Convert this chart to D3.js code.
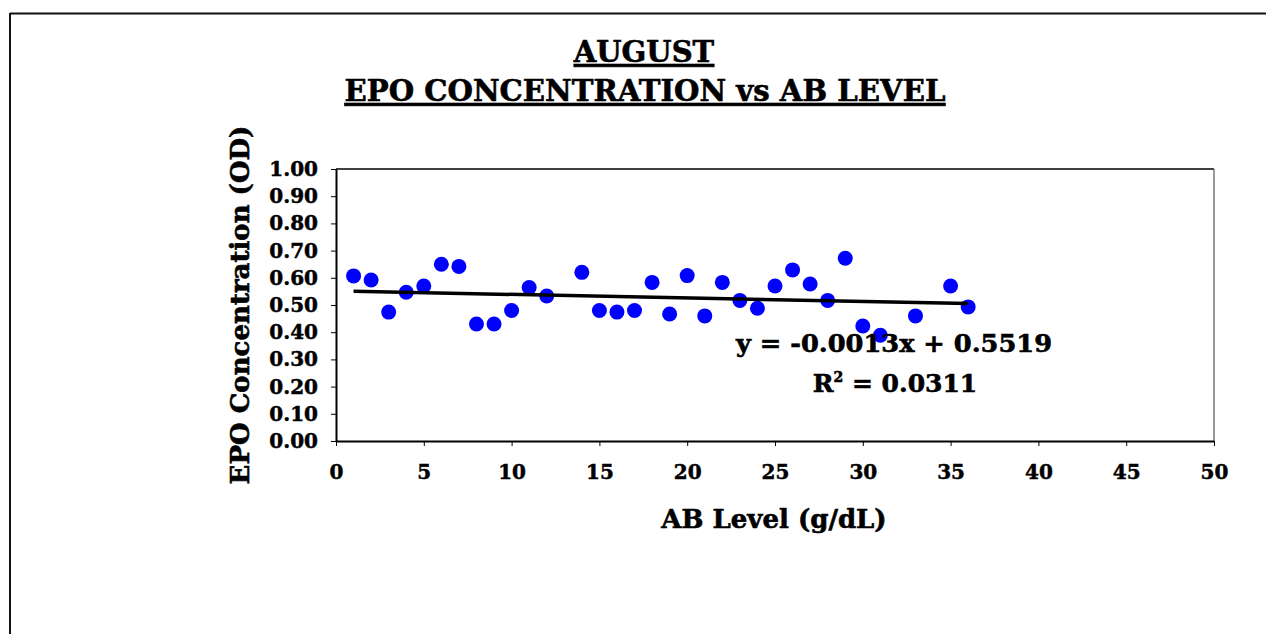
<!DOCTYPE html>
<html lang="en">
<head>
<meta charset="UTF-8">
<title>August EPO concentration vs AB level</title>
<script src="https://cdn.jsdelivr.net/npm/d3@7/dist/d3.min.js"></script>
<style>
    body { margin: 0; background: #fff; }
    svg { display: block; }
    text { font-family: "DejaVu Serif", "Liberation Serif", serif; font-weight: bold; fill: #000;
           stroke: #000; stroke-width: 0.6px; }
    .axis path, .axis line { stroke: #000; }
    .axis text { font-size: 20px; stroke-width: 0.5px; }
</style>
</head>
<body>
<div id="chart"></div>
<script>
// values
var abLevel = [1, 2, 3, 4, 5, 6, 7, 8, 9, 10, 11, 12, 14, 15, 16, 17, 18,
               19, 20, 21, 22, 23, 24, 25, 26, 27, 28, 29, 30, 31, 33, 35, 36];
var epoOD = [0.607, 0.592, 0.474, 0.547, 0.570, 0.650, 0.642, 0.430, 0.430, 0.480, 0.564, 0.533, 0.620, 0.480, 0.474, 0.480, 0.583,
             0.467, 0.608, 0.460, 0.583, 0.517, 0.488, 0.570, 0.629, 0.577, 0.517, 0.672, 0.423, 0.389, 0.460, 0.570, 0.493];
var trendCoef = { slope: -0.0013, intercept: 0.5519 };
var trendRange = [1, 36];
var xTicks = [0, 5, 10, 15, 20, 25, 30, 35, 40, 45, 50];
var yTicks = [0, 0.1, 0.2, 0.3, 0.4, 0.5, 0.6, 0.7, 0.8, 0.9, 1.0];

var W = 1266, H = 634;
var plot = { left: 336, right: 1214, top: 169, bottom: 441 };

var svg = d3.select('#chart').append('svg').attr('width', W).attr('height', H);

// outer chart frame (only top and left show)
svg.append('line').attr('x1', 10).attr('x2', W).attr('y1', 13.5).attr('y2', 13.5)
    .attr('stroke', '#111').attr('stroke-width', 2);
svg.append('line').attr('x1', 10).attr('x2', 10).attr('y1', 13).attr('y2', H)
    .attr('stroke', '#111').attr('stroke-width', 2);

var x = d3.scaleLinear().domain([0, 50]).range([plot.left, plot.right]);
var y = d3.scaleLinear().domain([0, 1]).range([plot.bottom, plot.top]);

// plot frame top + right
svg.append('line').attr('x1', plot.left).attr('x2', plot.right).attr('y1', plot.top).attr('y2', plot.top)
    .attr('stroke', '#000').attr('stroke-width', 1.5);
svg.append('line').attr('x1', plot.right).attr('x2', plot.right).attr('y1', plot.top).attr('y2', plot.bottom)
    .attr('stroke', '#777').attr('stroke-width', 1.5);

var xAxis = svg.append('g').attr('class', 'axis')
    .attr('transform', 'translate(0,' + plot.bottom + ')')
    .call(d3.axisBottom(x).tickValues(xTicks).tickSize(5).tickSizeOuter(0).tickPadding(19));
xAxis.select('.domain').attr('stroke-width', 2);

var yAxis = svg.append('g').attr('class', 'axis')
    .attr('transform', 'translate(' + plot.left + ',0)')
    .call(d3.axisLeft(y).tickValues(yTicks).tickFormat(d3.format('.2f')).tickSize(5).tickSizeOuter(0).tickPadding(13));
yAxis.select('.domain').attr('stroke-width', 2);

// points
svg.append('g').selectAll('circle')
    .data(abLevel.map((d, i) => [d, epoOD[i]]))
    .join('circle')
    .attr('cx', d => x(d[0])).attr('cy', d => y(d[1]))
    .attr('r', 7.5).attr('fill', '#0000ff');

// linear trend line
svg.append('line')
    .attr('x1', x(trendRange[0])).attr('y1', y(trendCoef.slope * trendRange[0] + trendCoef.intercept))
    .attr('x2', x(trendRange[1])).attr('y2', y(trendCoef.slope * trendRange[1] + trendCoef.intercept))
    .attr('stroke', '#000').attr('stroke-width', 3.5);

// equation label
svg.append('text').attr('x', 894).attr('y', 352).attr('text-anchor', 'middle')
    .attr('font-size', 24).attr('textLength', 316).attr('lengthAdjust', 'spacingAndGlyphs')
    .text('y = -0.0013x + 0.5519');
var r2 = svg.append('text').attr('x', 895).attr('y', 392).attr('text-anchor', 'middle')
    .attr('font-size', 25);
r2.append('tspan').text('R');
r2.append('tspan').attr('dy', -10).attr('font-size', 14).text('2');
r2.append('tspan').attr('dy', 10).text(' = 0.0311');

// titles
svg.append('text').attr('x', 644).attr('y', 62).attr('text-anchor', 'middle')
    .attr('font-size', 29).attr('text-decoration', 'underline')
    .text('AUGUST');
svg.append('text').attr('x', 645).attr('y', 101).attr('text-anchor', 'middle')
    .attr('font-size', 29).attr('text-decoration', 'underline')
    .attr('textLength', 601).attr('lengthAdjust', 'spacingAndGlyphs')
    .text('EPO CONCENTRATION vs AB LEVEL');

// axis titles
svg.append('text').attr('x', 774).attr('y', 528).attr('text-anchor', 'middle')
    .attr('font-size', 26)
    .text('AB Level (g/dL)');
svg.append('text').attr('transform', 'translate(249,305) rotate(-90)')
    .attr('text-anchor', 'middle').attr('font-size', 26)
    .text('EPO Concentration (OD)');
</script>
</body>
</html>
